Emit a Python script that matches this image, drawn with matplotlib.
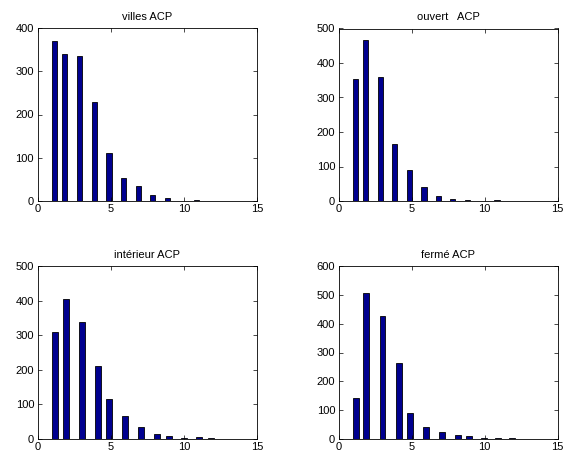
import matplotlib
matplotlib.use("Agg")
import matplotlib.pyplot as plt

# bin centres and counts
villes_x = [1.18, 1.86, 2.86, 3.88, 4.88, 5.88, 6.88, 7.88, 8.88, 9.9, 10.88]
villes_n = [370, 340, 336, 230, 110, 54, 34, 15, 8, 1, 2]

ouvert_x = [1.15, 1.83, 2.84, 3.84, 4.84, 5.84, 6.82, 7.82, 8.82, 9.88, 10.84]
ouvert_n = [354, 468, 358, 166, 91, 42, 14, 6, 3, 1, 2]

interieur_x = [1.2, 1.93, 3.03, 4.13, 4.9, 5.98, 7.08, 8.18, 8.95, 10.0, 11.05, 11.85]
interieur_n = [310, 405, 338, 212, 116, 67, 35, 15, 7, 1, 4, 1]

ferme_x = [1.16, 1.9, 3.0, 4.1, 4.86, 5.95, 7.05, 8.15, 8.9, 9.95, 10.9, 11.85]
ferme_n = [140, 507, 426, 264, 90, 42, 23, 13, 8, 1, 1, 1]

titles = ["villes ACP", "ouvert   ACP", "intérieur ACP", "fermé ACP"]
ymax = [400, 500, 500, 600]
widths = [0.36, 0.36, 0.41, 0.41]

plt.rcParams['font.family'] = ['Liberation Sans', 'DejaVu Sans']
plt.rcParams['font.size'] = 8

fig = plt.figure(figsize=(5.72, 4.57), dpi=100)
W, H = 572.0, 457.0
boxes = [(37.5, 28, 257, 201), (338.7, 28.5, 557.7, 201),
         (37.7, 266.3, 257, 438.7), (338.7, 266.3, 557.7, 438.7)]

data = [(villes_x, villes_n), (ouvert_x, ouvert_n),
        (interieur_x, interieur_n), (ferme_x, ferme_n)]

for (x0, y0, x1, y1), (xs, ns), t, ym, bw in zip(boxes, data, titles, ymax, widths):
    ax = fig.add_axes([x0 / W, 1 - y1 / H, (x1 - x0) / W, (y1 - y0) / H])
    ax.bar(xs, ns, width=bw, color=(0, 0, 0.5625), edgecolor='black', linewidth=0.6)
    ax.set_xlim(0, 15)
    ax.set_ylim(0, ym)
    ax.set_xticks([0, 5, 10, 15])
    ax.set_yticks(range(0, ym + 1, 100))
    ax.tick_params(direction='in', top=True, right=True, length=3, width=0.5,
                   labelsize=8, pad=2.5)
    for s in ax.spines.values():
        s.set_linewidth(0.6)
    ax.set_title(t, fontsize=8, pad=6)

fig.savefig("out.png", dpi=100)
